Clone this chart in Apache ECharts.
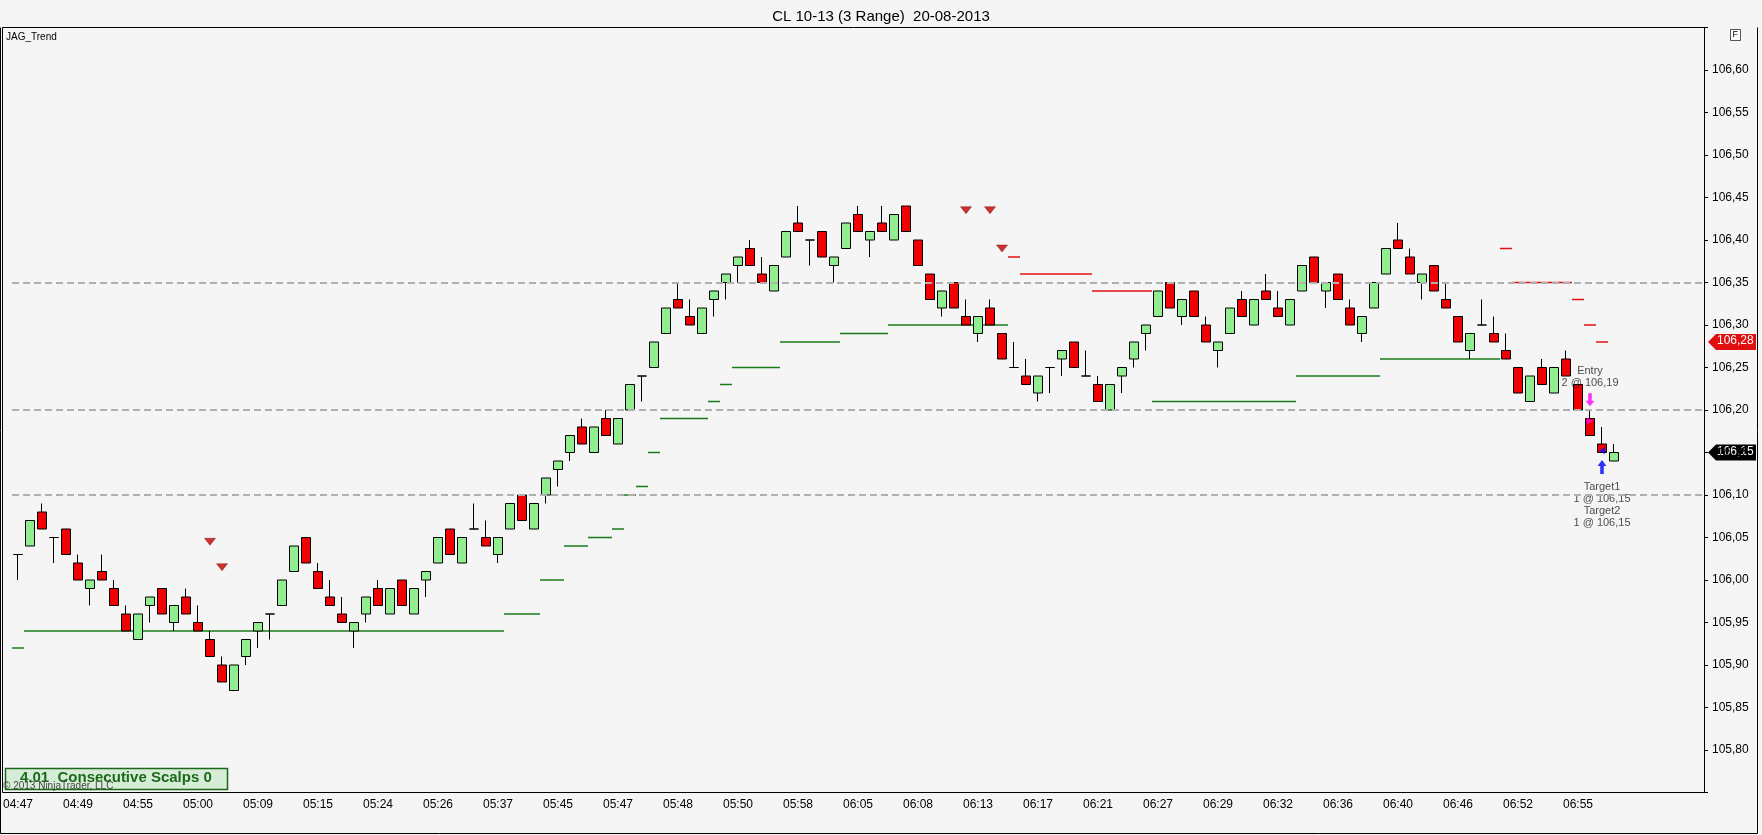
<!DOCTYPE html>
<html>
<head>
<meta charset="utf-8">
<script src="https://cdn.jsdelivr.net/npm/echarts@6/dist/echarts.min.js"></script>
<style>
  html, body { margin: 0; padding: 0; background: #f5f5f5; }
  #main { width: 1762px; height: 835px; }
</style>
</head>
<body>
<div id="main"></div>
<script>
// range bars, one per 3 ticks
const opens = [
  106.03,106.04,106.08,106.05,106.06,106.02,105.99,106.01,105.99,105.96,
  105.93,105.97,105.99,105.95,105.98,105.95,105.93,105.90,105.87,105.91,
  105.94,105.96,105.97,106.01,106.05,106.01,105.98,105.96,105.94,105.96,
  105.99,105.96,106.00,105.96,106.00,106.02,106.06,106.02,106.06,106.05,
  106.03,106.06,106.10,106.06,106.10,106.13,106.15,106.18,106.15,106.19,
  106.16,106.20,106.24,106.25,106.29,106.33,106.31,106.29,106.33,106.35,
  106.37,106.39,106.36,106.34,106.38,106.42,106.40,106.41,106.37,106.39,
  106.43,106.40,106.42,106.40,106.44,106.40,106.36,106.32,106.35,106.31,
  106.29,106.32,106.29,106.25,106.24,106.22,106.25,106.26,106.28,106.24,
  106.23,106.20,106.24,106.26,106.29,106.31,106.35,106.31,106.34,106.30,
  106.27,106.29,106.33,106.30,106.34,106.32,106.30,106.34,106.38,106.34,
  106.36,106.32,106.29,106.32,106.36,106.40,106.38,106.35,106.37,106.33,
  106.31,106.27,106.30,106.29,106.27,106.25,106.21,106.25,106.22,106.26,
  106.23,106.19,106.16,106.14
];
const closes = [
  106.03,106.07,106.06,106.05,106.03,106.00,106.00,106.00,105.97,105.94,
  105.96,105.98,105.96,105.97,105.96,105.94,105.91,105.88,105.90,105.93,
  105.95,105.96,106.00,106.04,106.02,105.99,105.97,105.95,105.95,105.98,
  105.97,105.99,105.97,105.99,106.01,106.05,106.03,106.05,106.06,106.04,
  106.05,106.09,106.07,106.09,106.12,106.14,106.17,106.16,106.18,106.17,
  106.19,106.23,106.24,106.28,106.32,106.32,106.30,106.32,106.34,106.36,
  106.38,106.37,106.35,106.37,106.41,106.41,106.40,106.38,106.38,106.42,
  106.41,106.41,106.41,106.43,106.41,106.37,106.33,106.34,106.32,106.30,
  106.31,106.30,106.26,106.25,106.23,106.24,106.25,106.27,106.25,106.24,
  106.21,106.23,106.25,106.28,106.30,106.34,106.32,106.33,106.31,106.28,
  106.28,106.32,106.31,106.33,106.33,106.31,106.33,106.37,106.35,106.35,
  106.33,106.30,106.31,106.35,106.39,106.39,106.36,106.36,106.34,106.32,
  106.28,106.29,106.30,106.28,106.26,106.22,106.24,106.23,106.25,106.24,
  106.20,106.17,106.15,106.15
];
const lows = [
  106.00,106.04,106.06,106.02,106.03,106.00,105.97,106.00,105.97,105.94,
  105.93,105.95,105.96,105.94,105.96,105.94,105.91,105.88,105.87,105.90,
  105.92,105.93,105.97,106.01,106.02,105.99,105.97,105.95,105.92,105.95,
  105.97,105.96,105.97,105.96,105.98,106.02,106.03,106.02,106.06,106.04,
  106.02,106.06,106.07,106.06,106.09,106.11,106.14,106.16,106.15,106.17,
  106.16,106.20,106.21,106.25,106.29,106.32,106.30,106.29,106.31,106.33,
  106.35,106.37,106.35,106.34,106.38,106.41,106.37,106.38,106.35,106.39,
  106.41,106.38,106.41,106.40,106.41,106.37,106.33,106.31,106.32,106.30,
  106.28,106.30,106.26,106.25,106.23,106.21,106.22,106.24,106.25,106.24,
  106.21,106.20,106.22,106.25,106.27,106.31,106.32,106.30,106.31,106.28,
  106.25,106.29,106.31,106.30,106.33,106.31,106.30,106.34,106.35,106.32,
  106.33,106.30,106.28,106.32,106.36,106.39,106.36,106.33,106.34,106.32,
  106.28,106.26,106.30,106.28,106.26,106.22,106.21,106.23,106.22,106.24,
  106.20,106.17,106.15,106.14
];
const highs = [
  106.03,106.07,106.09,106.05,106.06,106.03,106.00,106.03,106.00,105.97,
  105.96,105.98,105.99,105.97,105.99,105.97,105.94,105.91,105.90,105.93,
  105.95,105.96,106.00,106.04,106.05,106.02,106.00,105.98,105.95,105.98,
  106.00,105.99,106.00,105.99,106.01,106.05,106.06,106.05,106.09,106.07,
  106.05,106.09,106.10,106.09,106.12,106.14,106.17,106.19,106.18,106.20,
  106.19,106.23,106.24,106.28,106.32,106.35,106.33,106.32,106.34,106.36,
  106.38,106.40,106.38,106.37,106.41,106.44,106.40,106.41,106.38,106.42,
  106.44,106.41,106.44,106.43,106.44,106.40,106.36,106.34,106.35,106.33,
  106.31,106.33,106.29,106.28,106.26,106.24,106.25,106.27,106.28,106.27,
  106.24,106.23,106.25,106.28,106.30,106.34,106.35,106.33,106.34,106.31,
  106.28,106.32,106.34,106.33,106.36,106.34,106.33,106.37,106.38,106.35,
  106.36,106.33,106.31,106.35,106.39,106.42,106.39,106.36,106.37,106.35,
  106.31,106.29,106.33,106.31,106.29,106.25,106.24,106.26,106.25,106.27,
  106.23,106.20,106.18,106.16
];

// trailing stop levels per bar (null = none)
const greenStop = [
  105.92,105.94,105.94,105.94,105.94,105.94,105.94,105.94,105.94,105.94,
  105.94,105.94,105.94,105.94,105.94,105.94,105.94,105.94,105.94,105.94,
  105.94,105.94,105.94,105.94,105.94,105.94,105.94,105.94,105.94,105.94,
  105.94,105.94,105.94,105.94,105.94,105.94,105.94,105.94,105.94,105.94,
  105.94,105.96,105.96,105.96,106.00,106.00,106.04,106.04,106.05,106.05,
  106.06,106.10,106.11,106.15,106.19,106.19,106.19,106.19,106.21,106.23,
  106.25,106.25,106.25,106.25,106.28,106.28,106.28,106.28,106.28,106.29,
  106.29,106.29,106.29,106.30,106.30,106.30,106.30,106.30,106.30,106.30,
  106.30,106.30,106.30,null,null,null,null,null,null,null,
  null,null,null,null,null,106.21,106.21,106.21,106.21,106.21,
  106.21,106.21,106.21,106.21,106.21,106.21,106.21,106.24,106.24,106.24,
  106.24,106.24,106.24,106.24,106.26,106.26,106.26,106.26,106.26,106.26,
  106.26,106.26,106.26,106.26,null,null,null,null,null,null,
  null,null,null,null
];
const redStop = [
  null,null,null,null,null,null,null,null,null,null,null,null,null,null,null,null,null,null,null,null,
  null,null,null,null,null,null,null,null,null,null,null,null,null,null,null,null,null,null,null,null,
  null,null,null,null,null,null,null,null,null,null,null,null,null,null,null,null,null,null,null,null,
  null,null,null,null,null,null,null,null,null,null,null,null,null,null,null,null,null,null,null,null,
  null,null,null,106.38,106.36,106.36,106.36,106.36,106.36,106.36,
  106.34,106.34,106.34,106.34,106.34,null,null,null,null,null,
  null,null,null,null,null,null,null,null,null,null,null,null,null,null,null,null,null,null,null,null,
  null,null,null,null,106.39,106.35,106.35,106.35,106.35,106.35,
  106.33,106.30,106.28,null
];
const signalBars = [16, 17, 79, 81, 82];
const signalPrices = [106.045, 106.015, 106.435, 106.435, 106.39];

const timeTicks = ['04:47','04:49','04:55','05:00','05:09','05:15','05:24','05:26','05:37',
  '05:45','05:47','05:48','05:50','05:58','06:05','06:08','06:13','06:17','06:21','06:27',
  '06:29','06:32','06:36','06:40','06:46','06:52','06:55'];
const levels = [106.35, 106.20, 106.10];
const lastPrice = 106.15;
const stopPrice = 106.28;

const slots = 141;
const cats = [];
for (let i = 0; i < slots; i++) cats.push(i % 5 === 0 && i / 5 < timeTicks.length ? timeTicks[i / 5] : '');

const ohlc = opens.map((o, i) => [o, closes[i], lows[i], highs[i]]);
const gData = [], rData = [];
greenStop.forEach((v, i) => { if (v !== null) gData.push([i, v]); });
redStop.forEach((v, i) => { if (v !== null) rData.push([i, v]); });

function segRender(color) {
  return function (params, api) {
    const p = api.coord([api.value(0), api.value(1)]);
    const w = api.size([1, 0])[0];
    return { type: 'line', shape: { x1: p[0] - w / 2, y1: p[1], x2: p[0] + w / 2, y2: p[1] },
      style: { stroke: color, lineWidth: 1.5 } };
  };
}

const FONT = '"Liberation Sans Narrow", "Liberation Sans", Arial, sans-serif';
const chart = echarts.init(document.getElementById('main'));
const option = {
  backgroundColor: '#f5f5f5',
  animation: false,
  title: {
    text: 'CL 10-13 (3 Range)  20-08-2013', left: 'center', top: 4,
    textStyle: { fontFamily: 'Liberation Sans, Arial', fontSize: 15, fontWeight: 'normal', color: '#000' }
  },
  grid: { left: 12, right: 58, top: 27.5, bottom: 42.5 },
  xAxis: {
    type: 'category', data: cats, boundaryGap: true,
    axisLine: { lineStyle: { color: '#000' } },
    axisTick: { interval: (i) => i % 5 === 0 && i <= 130, alignWithLabel: true, length: 5, lineStyle: { color: '#000' } },
    axisLabel: { interval: (i) => i % 5 === 0 && i <= 130, color: '#000', fontFamily: FONT, fontSize: 12, margin: 6 },
    splitLine: { show: false }
  },
  yAxis: {
    type: 'value', position: 'right', min: 105.75, max: 106.65, interval: 0.05,
    axisLine: { show: true, lineStyle: { color: '#000' } },
    axisTick: { show: true, length: 4, lineStyle: { color: '#000' } },
    axisLabel: {
      color: '#000', fontFamily: FONT, fontSize: 12, margin: 8,
      formatter: (v) => (v < 105.77 || v > 106.63) ? '' : v.toFixed(2).replace('.', ',')
    },
    splitLine: { show: false }
  },
  series: [
    {
      type: 'candlestick', data: ohlc, barWidth: 9,
      itemStyle: { color: '#90ee90', color0: '#f00000', borderColor: '#000', borderColor0: '#000', borderWidth: 1 },
      markLine: {
        silent: true, symbol: 'none', label: { show: false },
        lineStyle: { color: '#b0b0b0', type: [7, 4], width: 2 },
        data: levels.map((v) => ({ yAxis: v }))
      }
    },
    { type: 'custom', data: gData, renderItem: segRender('#1a7a1a'), z: 1 },
    { type: 'custom', data: rData, renderItem: segRender('#e01010'), z: 1 },
    {
      type: 'scatter', data: signalBars.map((b, i) => [b, signalPrices[i]]),
      symbol: 'triangle', symbolRotate: 180, symbolSize: [11, 7],
      itemStyle: { color: '#c00000', borderColor: '#800000', borderWidth: 0.5 }
    },
    // entry / exit markers
    {
      type: 'scatter', symbol: 'path://M3,0 L7,0 L7,8 L10,8 L5,14 L0,8 L3,8 Z', symbolSize: [9, 13],
      itemStyle: { color: '#ff00ff' }, data: [[131, 106.212]]
    },
    {
      type: 'scatter', symbol: 'triangle', symbolRotate: -90, symbolSize: [7, 6],
      itemStyle: { color: '#ff00ff' }, data: [[130.6, 106.187]]
    },
    {
      type: 'scatter', symbol: 'path://M5,0 L10,6 L7,6 L7,14 L3,14 L3,6 L0,6 Z', symbolSize: [9, 14],
      itemStyle: { color: '#0000ff' }, data: [[132, 106.133]]
    },
    {
      type: 'scatter', symbol: 'triangle', symbolRotate: 90, symbolSize: [7, 6],
      itemStyle: { color: '#0000ff' }, data: [[132.4, 106.152]]
    },
    {
      type: 'scatter', symbolSize: 0, silent: true,
      data: [
        { value: [131, 106.239], label: { formatter: 'Entry\n2 @ 106,19' } },
        { value: [132, 106.088], label: { formatter: 'Target1\n1 @ 106,15\nTarget2\n1 @ 106,15' } }
      ],
      label: { show: true, position: 'inside', color: '#222', fontFamily: 'Liberation Sans, Arial', fontSize: 11, lineHeight: 12 }
    }
  ]
};
chart.setOption(option);

// frame, price tags and boxes
const yStop = chart.convertToPixel({ yAxisIndex: 0 }, stopPrice);
const yLast = chart.convertToPixel({ yAxisIndex: 0 }, lastPrice);
function tag(y, fill, txt) {
  return {
    type: 'group', children: [
      { type: 'polygon', shape: { points: [[1708, y], [1716, y - 8], [1756, y - 8], [1756, y + 8], [1716, y + 8]] }, style: { fill: fill } },
      { type: 'text', x: 1717, y: y - 7, style: { text: txt, fill: '#fff', font: '12px ' + FONT } }
    ]
  };
}
chart.setOption({
  graphic: [
    { type: 'polyline', shape: { points: [[0.5, 27.5], [0.5, 833.5], [1757.5, 833.5], [1757.5, 27.5]] }, style: { fill: 'none', stroke: '#000', lineWidth: 1 }, silent: true },
    { type: 'rect', shape: { x: 2.5, y: 27.5, width: 1702, height: 765 }, style: { fill: 'none', stroke: '#000', lineWidth: 1 }, silent: true },
    { type: 'text', x: 6, y: 32, style: { text: 'JAG_Trend', fill: '#000', font: '10px Liberation Sans, Arial' } },
    { type: 'rect', shape: { x: 1730.5, y: 29.5, width: 10, height: 11 }, style: { fill: '#fff', stroke: '#555', lineWidth: 1 } },
    { type: 'text', x: 1732.5, y: 30, style: { text: 'F', fill: '#000', font: '9px Liberation Sans, Arial' } },
    tag(yStop, '#e01010', '106,28'),
    tag(yLast, '#000', '106,15'),
    { type: 'rect', shape: { x: 5.5, y: 768.5, width: 222, height: 21 }, style: { fill: '#d6ecd6', stroke: '#1a6a1a', lineWidth: 1.5 } },
    { type: 'text', x: 20, y: 770, style: { text: '4.01  Consecutive Scalps 0', fill: '#1a6a1a', font: 'bold 15px ' + FONT } },
    { type: 'text', x: 3, y: 781, style: { text: '© 2013 NinjaTrader, LLC', fill: '#444', font: '10px ' + FONT } }
  ]
});
</script>
</body>
</html>
